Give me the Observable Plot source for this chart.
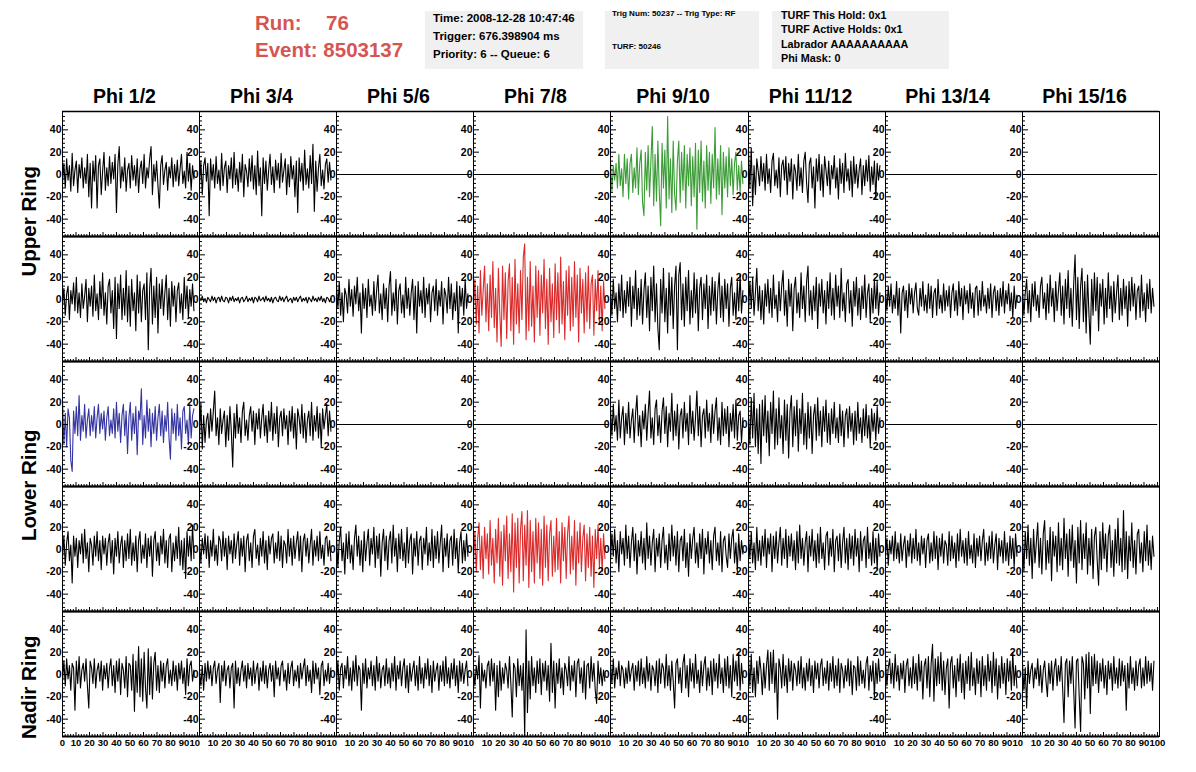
<!DOCTYPE html>
<html>
<head>
<meta charset="utf-8">
<script src="https://cdn.jsdelivr.net/npm/d3@7"></script>
<script src="https://cdn.jsdelivr.net/npm/@observablehq/plot@0.6"></script>
<style>
html,body{margin:0;padding:0;background:#fff;overflow:hidden;}
#root{position:relative;width:1196px;height:772px;overflow:hidden;font-family:"Liberation Sans",Arial,Helvetica,sans-serif;font-weight:bold;color:#000;}
.t{position:absolute;white-space:nowrap;line-height:1;}
.box{position:absolute;background:#f0f0f0;}
</style>
</head>
<body>
<div id="root"></div>
<script>
// ---------- labels ----------
const phiLabels = ["Phi 1/2","Phi 3/4","Phi 5/6","Phi 7/8","Phi 9/10","Phi 11/12","Phi 13/14","Phi 15/16"];
const ringLabels = ["Upper Ring","Lower Ring","Nadir Ring"];
const runLabel = "Run:", runValue = "76", eventLabel = "Event: 8503137";
const box1Lines = ["Time: 2008-12-28 10:47:46","Trigger: 676.398904 ms","Priority: 6 -- Queue: 6"];
const box2Lines = ["Trig Num: 50237 -- Trig Type: RF","TURF: 50246"];
const box3Lines = ["TURF This Hold: 0x1","TURF Active Holds: 0x1","Labrador AAAAAAAAAA","Phi Mask: 0"];
const yMajor = [-40,-20,0,20,40];
const yMinor = [-52,-48,-44,-36,-32,-28,-24,-16,-12,-8,-4,4,8,12,16,24,28,32,36,44,48,52];
const xMajor = [0,10,20,30,40,50,60,70,80,90,100];
const xMinor = [2,4,6,8,12,14,16,18,22,24,26,28,32,34,36,38,42,44,46,48,52,54,56,58,62,64,66,68,72,74,76,78,82,84,86,88,92,94,96,98];
const xLabels = [0,10,20,30,40,50,60,70,80,90,100];

// ---------- waveforms (mV, sampled every dt ns) ----------
const dt = 1.025;
const flatTimes = [0, 99.5];
const flatValues = [0, 0];

const r1c1 = [-8,10,-12,14,-5,8,-15,19,-10,4,12,-16,9,-3,15,-12,6,-8,18,-20,10,-30,12,-6,17,-30,8,14,-18,3,20,-14,6,-10,16,-8,11,-4,18,-34,9,25,-12,7,-6,15,-15,4,10,-12,17,-5,8,-10,14,-16,5,12,-8,18,-12,6,-3,14,25,-18,9,-6,12,-10,-30,8,17,-9,4,11,-14,7,-3,15,-11,9,-6,13,-10,5,18,-8,3,-12,20,-6,10,-14,8,-4];
const r1c2 = [-10,12,-18,8,15,-6,10,-37,14,-5,9,-12,16,-8,4,-14,19,-10,6,12,-16,8,-4,15,-12,20,-9,5,-15,11,-7,18,-20,9,3,-11,14,-6,17,-13,8,-18,21,-10,6,-37,15,-8,12,-14,4,18,-9,7,-16,13,-5,10,-12,19,-7,4,14,-18,9,-11,16,-4,8,-20,12,-34,15,-6,10,-14,22,-9,5,-12,17,-8,27,-33,12,-15,6,18,-10,4,-13,9,14,-7,11,-5];
const r1c5 = [12,-15,8,-5,10,-12,18,-10,5,-20,18,-8,14,-22,10,18,-16,6,-12,24,-18,10,22,-25,-37,20,-14,26,-20,12,43,-28,18,-24,30,-15,-46,28,-12,22,-30,52,-22,14,-34,30,-18,-32,12,30,-25,20,-14,26,-30,18,-10,24,-28,16,-20,28,-49,22,-16,30,-24,12,-30,26,-14,20,-26,18,-12,42,-22,14,-18,26,-36,20,-12,16,-20,24,-10,14,-18,10,20,-14,8,-16,12,-8];
const r1c6 = [20,-12,24,-28,8,-18,14,3,-10,16,-6,10,-14,18,-8,5,-16,12,19,-10,4,-12,15,-20,8,13,-5,16,-18,10,-6,14,-22,9,3,-14,18,-10,6,-16,12,20,-8,-25,10,15,-12,7,-30,14,-6,18,-14,9,-20,16,4,-10,12,-18,8,-4,17,-12,6,-22,14,-8,10,-16,19,-6,5,-14,12,-20,16,-8,9,-12,4,14,-18,8,-10,13,-6,17,-15,7,-9,12,-22,10,-5,8];

const r2c1 = [-6,10,-14,5,12,-18,8,-4,15,-10,20,-12,6,-16,14,-8,3,18,-20,10,-6,12,-15,22,-10,5,-18,16,-8,24,-14,6,-22,12,18,-12,8,-26,20,-35,14,-8,22,-18,10,-14,26,-20,12,-24,18,-10,6,-28,22,-12,16,-20,8,14,-18,24,-45,10,28,-22,12,-16,20,-30,14,-8,18,-14,6,22,-18,10,-24,16,-6,12,-20,8,15,-12,5,-18,20,-8,12,-16,9,-6,14,-10];
const r2c2 = [2,-1,3,-2,1,-3,2,0,-2,3,-1,2,-3,1,2,-2,3,-1,-2,2,1,-3,2,-1,3,-2,1,-1,2,-3,1,2,-2,0,3,-2,1,-1,2,-3,2,1,-2,3,-1,0,2,-2,3,-1,1,-2,2,-3,1,2,-1,-2,3,-1,2,-2,1,3,-2,0,1,-3,2,-1,2,-2,1,3,-2,1,-1,2,-3,2,0,-2,3,-1,1,-2,2,-1,3,-2,1,-3,2,1,-2,1];
const r2c3 = [12,-8,16,-14,6,-20,10,4,-12,18,-6,9,-15,12,-4,20,-10,6,-30,14,-8,10,-16,18,-6,4,-14,16,-10,8,22,-12,5,-18,14,-8,10,-20,12,25,-14,6,-10,18,-22,8,14,-12,4,-16,20,-8,10,-14,6,18,-18,12,-30,16,-6,8,-12,20,-16,10,-4,14,-20,6,12,-10,18,-14,8,-6,16,-22,10,4,-12,20,-8,14,-18,6,-10,16,-30,12,-6,10,-14,18,-8,5];
const r2c4 = [-10,18,-22,12,-30,26,-14,8,30,-20,14,-28,22,-16,34,-25,10,-38,28,-12,-42,30,-18,24,-35,16,32,-28,20,-40,36,-22,14,-30,26,-18,38,50,-36,20,-28,34,-24,12,-38,30,-16,26,-32,22,-12,36,-26,18,-40,28,-20,14,-34,32,-18,24,-30,38,-22,16,-36,26,-14,30,-28,20,-24,34,-16,22,-38,28,-12,18,-30,24,-20,30,-26,14,22,-32,18,-10,26,-22,12,-28,16,-8];
const r2c5 = [10,-14,18,-8,6,-20,14,-10,22,-16,8,-12,16,-6,20,-24,12,-8,26,-18,10,-14,18,-22,8,24,-16,12,-28,20,-10,30,-20,14,-26,-45,18,-12,28,-20,10,-30,24,-14,20,-26,12,30,-45,22,33,-18,14,-24,20,-10,26,-22,8,-16,24,-12,18,-28,10,20,-18,14,-8,22,-26,12,-14,20,-10,16,-22,8,24,-16,12,-20,18,-8,14,-24,10,20,-14,6,-18,16,-10,22,-12,8];
const r2c6 = [-12,16,-8,20,-14,6,28,-10,12,-18,8,-22,14,-6,18,-12,10,-16,22,-8,4,-20,16,-10,12,26,-14,8,-24,18,-6,14,-28,10,20,-12,6,-16,24,-8,12,-20,16,30,-14,8,-18,12,-10,20,-26,14,-6,18,-12,8,-22,16,-8,24,-14,10,-18,22,-6,12,-16,28,-10,6,-20,14,18,-12,8,-24,16,-6,20,-14,10,-18,12,-8,22,-16,6,14,-20,10,-12,18,-8,16,-14,6];
const r2c7 = [8,-10,12,-6,14,-12,4,-8,16,-14,10,-30,6,12,-10,8,-16,14,-4,10,-12,6,15,-8,-14,10,-6,16,-10,4,-12,14,-8,12,-16,6,10,-14,18,-8,4,-12,14,-10,8,-6,12,-16,6,14,-10,8,-14,16,-6,10,-18,12,-4,8,-12,14,-8,6,-16,10,12,-14,8,-10,16,-6,4,-12,10,-8,14,-16,6,12,-10,8,-14,10,-6,16,-12,8,-4,14,-10,6,-16,12,-8,4];
const r2c8 = [10,-14,6,18,-12,8,-20,14,-6,16,-10,4,-16,12,20,-8,6,-18,14,-12,22,-6,10,-20,16,-10,8,24,-14,12,-22,18,-8,26,-16,10,-24,14,40,-18,20,-26,12,28,-20,16,-30,22,-12,-40,18,-14,24,-10,20,-28,14,-6,18,-22,10,-16,24,-8,12,-20,16,-12,6,22,-18,10,-14,18,-8,12,-24,16,-10,20,-6,14,-18,8,12,-16,22,-10,6,-20,14,-8,18,-12,10,-6];

const r3c1 = [22,-18,10,-20,14,6,-32,-42,12,-8,16,-10,26,-14,8,-6,18,-12,4,14,-10,8,-6,16,-12,6,18,-8,10,-4,12,-14,6,16,-10,4,-8,14,-12,20,-6,10,-16,8,18,-10,12,-26,6,20,-14,10,-8,16,-27,12,4,32,-18,8,-12,22,-6,14,-20,10,-8,16,-14,6,18,-10,12,-16,8,-6,20,-12,-31,14,-8,10,-14,18,-10,6,-22,12,16,-8,4,-18,18,-12,8,14];
const r3c2 = [-14,20,-22,8,-16,4,10,-12,14,-6,12,30,-10,6,-18,14,-8,4,12,-20,8,-14,16,-6,-38,10,-12,18,-8,6,-16,12,20,-10,4,-14,8,16,-6,12,-18,10,-4,14,-12,6,18,-10,8,-16,12,-6,20,-14,10,-8,16,-20,6,12,-10,14,-4,8,-18,12,-6,16,-12,10,-22,14,6,-8,18,-12,10,-16,4,12,-10,20,-14,8,-6,16,-12,10,-20,14,-4,8,18,-10,12,-6];
const r3c5 = [14,-10,18,-6,8,-14,22,-12,6,16,-18,10,-8,20,-12,4,14,-16,10,26,-10,8,-20,12,-4,18,-14,10,30,-12,6,-18,14,22,-10,8,-16,12,24,-8,16,-20,10,-6,28,-14,12,-10,18,-22,8,14,-12,20,-6,10,-18,26,-8,12,-14,6,30,-10,16,-20,8,14,-12,22,-6,10,-16,18,-8,12,24,-14,6,-18,20,-10,14,-8,16,-20,10,-6,18,-12,22,-14,8,12,-16,6];
const r3c6 = [10,-18,24,-12,28,-20,14,-26,18,-35,22,-10,26,-16,12,-28,20,-8,30,-22,14,-18,24,-12,8,-26,22,-14,18,-30,12,26,-20,16,-10,22,-24,14,-8,28,-18,10,-22,20,-12,16,-26,8,18,-14,24,-10,12,-20,16,-6,22,-16,10,-18,14,-8,20,-12,6,-16,18,-10,12,-20,8,14,-12,16,-6,10,-18,12,-14,20,-8,6,-16,14,-10,18,-12,8,-20,14,-6,10,-14,16,-8,6];

const r4c1 = [-8,12,-14,6,16,-10,4,-30,12,-6,10,-16,8,-4,14,-12,18,-8,6,-20,10,4,-14,12,-6,16,-10,8,-18,12,-4,10,-14,6,14,-12,8,-22,10,-6,16,-12,4,12,-16,8,-10,14,-8,18,-14,6,-10,12,-20,8,16,-12,4,-8,14,-16,10,-6,12,-24,8,16,-10,6,-14,12,-4,18,-12,8,-16,10,14,-20,6,-10,12,-8,20,-14,8,-18,10,-26,16,-6,12,-10,22,-8];
const r4c2 = [6,-12,10,-4,14,-8,12,-16,8,-6,18,-10,4,-14,12,8,-10,16,-6,10,-18,12,-4,8,-12,14,-8,6,16,-14,10,-6,12,-20,8,14,-10,6,-16,12,18,-8,4,-14,10,-6,16,-12,8,-18,12,-4,10,14,-12,6,-8,16,-10,12,-16,8,4,-12,18,-6,10,-14,12,-8,6,16,-10,12,-20,8,14,-6,10,-12,4,18,-14,8,-6,12,-10,16,-8,4,-14,10,12,-6,8,-10];
const r4c3 = [12,-16,8,20,-10,6,-22,14,-8,16,-12,4,-18,10,22,-6,12,-14,8,-20,16,-10,6,18,-14,10,-4,20,-16,12,-8,14,-24,6,18,-10,12,-18,8,16,-12,22,-6,10,-20,14,-8,18,-10,6,-16,20,-12,8,14,-22,10,-6,16,-14,8,12,-18,10,-4,20,-14,6,-10,18,-16,12,-8,16,-12,6,22,-20,10,-6,14,-16,8,12,-14,18,-8,10,-20,6,16,-12,8,-10,14,-6];
const r4c4 = [-12,16,-20,10,24,-18,12,-26,20,-8,14,-22,26,-14,10,-30,18,-12,28,-24,16,-32,22,-10,30,-26,14,-20,32,-38,24,-16,28,-30,18,34,-28,22,-14,35,-34,26,-20,16,-30,28,-12,24,-26,18,-32,30,-16,22,-28,14,26,-24,12,-20,28,-18,16,-30,24,-10,20,-26,14,30,-22,12,-18,26,-32,16,-12,24,-20,10,22,-28,14,-16,20,-24,12,-34,18,-8,22,-16,10,-20,14,-8];
const r4c5 = [-10,14,-6,18,-12,8,-20,16,-4,10,-14,22,-8,12,-16,6,20,-10,14,-22,8,-6,16,-12,10,-18,24,-8,12,-14,6,18,-20,10,-6,14,-16,8,20,-12,4,-18,14,-10,22,-6,12,-14,16,-20,8,12,-10,18,-16,6,-24,14,-8,10,20,-12,6,-16,14,-8,18,-22,10,-4,16,-12,8,-18,12,20,-10,6,-14,16,-20,8,12,-6,-16,14,-8,10,18,-12,6,-20,14,-10,8,-4];
const r4c6 = [14,-8,16,-12,6,-18,20,-10,8,-14,12,-6,18,-16,10,-4,14,-20,12,-8,16,-12,6,20,-14,10,-8,18,-16,12,-6,14,-10,8,-18,16,-12,22,-8,10,-14,6,16,-20,12,-6,18,-10,8,-16,14,-12,20,-8,6,-18,12,16,-14,10,-6,18,-20,8,12,-10,14,-16,6,20,-12,10,-18,14,-8,12,-14,18,-6,10,-20,16,-10,8,12,-16,20,-8,6,-14,16,-12,10,-18,14,-6];
const r4c7 = [-6,10,-14,8,-4,12,-10,16,-8,6,-12,14,-10,4,12,-16,8,-6,14,-12,10,-8,18,-10,6,-14,12,-4,10,-16,8,14,-12,6,-10,16,-8,12,-18,10,-6,14,-12,8,4,-14,16,-10,12,-8,6,-16,14,-10,18,-6,8,-12,10,-14,16,-8,4,-12,14,-16,10,-6,12,-10,8,18,-14,6,-10,12,-8,16,-12,4,14,-18,10,-6,8,-12,16,-10,6,-14,12,-8,10,-16,14,-6];
const r4c8 = [12,-20,16,-8,22,-14,10,-26,18,-12,6,24,-16,10,-22,14,26,-18,8,-12,20,-28,16,-6,12,-20,24,-14,10,-18,28,-8,14,-24,18,-10,22,-16,8,-30,20,-12,26,-18,14,-8,24,-22,10,-14,18,-26,12,20,-10,-32,16,-18,24,-8,14,-20,12,22,-16,8,-24,18,-12,28,-14,10,-20,35,-18,16,-26,12,-10,24,-16,8,-22,14,18,-12,6,-20,16,-10,22,-14,8,-18,12,-6];

const r5c1 = [-6,12,-10,14,-4,8,-14,10,6,-32,12,-8,16,-12,4,10,-6,14,-10,-30,12,6,-8,14,-12,4,10,-6,12,-14,8,-4,10,-12,6,14,-10,8,-16,12,-6,14,-18,10,4,-12,16,-20,10,8,-14,18,-33,12,-16,25,-20,14,-24,20,-12,-30,23,-18,16,-22,10,20,-14,8,-16,12,-6,10,-12,8,14,-8,4,-10,12,-6,8,-14,10,-4,12,-8,6,-18,14,-10,8,12,-6,4];
const r5c2 = [4,-10,8,-14,10,-6,12,-4,8,-10,6,12,-8,4,10,-25,8,-6,12,-10,4,8,-12,6,10,-30,12,-8,6,-10,4,12,-6,8,-12,10,-4,6,-10,12,-8,4,10,-14,6,-6,12,-8,8,-12,4,10,-6,8,-20,12,-4,6,-10,8,12,-6,4,-14,10,-8,6,12,-10,4,-6,8,-12,10,-4,6,14,-10,8,-6,4,-16,12,-8,10,-4,6,-18,8,12,-10,4,-6,10,-8,6];
const r5c3 = [-8,12,-14,6,10,-12,8,-4,16,-10,6,-14,12,-6,17,-10,8,4,-32,10,-8,14,-12,6,-4,12,-10,8,-14,16,-6,10,-12,4,8,-10,14,-8,6,-12,10,-6,16,-14,8,-4,12,-10,6,14,-12,8,-16,10,-6,4,12,-10,8,-14,16,-8,6,-12,10,-4,14,-10,8,-16,12,-6,4,10,-14,8,-6,12,-10,16,-8,6,-12,10,-4,14,-10,8,-16,12,-6,10,-8,4,12,-10];
const r5c4 = [6,-10,8,-4,17,-30,10,-6,4,-12,8,12,-10,14,-6,10,-32,8,-20,12,-14,6,-8,10,4,-12,16,-8,-38,10,6,-20,14,-10,8,-14,10,-55,40,-34,12,-22,16,-10,6,-16,12,-8,14,-18,10,-6,12,-14,8,-24,28,-16,12,-30,10,-8,14,-12,6,-18,10,4,-10,16,-14,8,-6,12,-20,10,14,-8,6,-16,12,-22,8,10,-12,16,-6,10,-14,-26,12,-8,6,-10,4,-6];
const r5c5 = [10,-8,14,-12,6,-4,12,-10,8,4,-12,6,-8,12,-6,4,10,-14,8,-6,12,-10,14,-8,6,-12,16,-6,10,-14,8,4,-10,12,-16,14,-8,10,6,-12,18,-10,8,-14,12,-6,-30,10,14,-8,6,-16,10,18,-12,8,-20,14,-6,10,-12,18,-8,4,-16,12,-10,8,16,-14,6,-10,12,-18,14,-6,10,-12,18,-8,6,-16,14,-10,16,-12,8,-20,18,-6,12,-10,20,-14,10,-8];
const r5c6 = [14,-10,18,-16,6,-20,12,-8,16,4,-18,10,-12,8,22,-14,20,-8,22,-16,10,-40,14,6,-12,18,-10,8,-16,14,-6,12,-14,10,4,-10,12,-8,16,-12,6,-14,10,-6,14,-10,8,-16,12,-4,10,-12,8,14,-10,6,-8,12,-14,10,-6,16,-12,8,-10,14,-16,10,4,-12,8,-6,14,-10,12,-18,8,6,-14,16,-10,12,-8,4,-12,10,16,-14,8,-6,12,-20,10,-8,14,-6];
const r5c7 = [12,-10,6,14,-8,10,-12,18,-6,8,-14,10,-4,12,-16,8,14,-10,6,-12,16,-8,10,-14,18,-6,12,-22,8,14,-12,16,-20,10,27,-24,14,-10,16,-8,20,-14,12,-18,6,14,-30,10,16,-12,8,-20,14,-6,18,-16,10,-22,12,-8,16,-14,20,-10,6,-18,14,-8,12,-20,16,-10,8,-14,18,-6,12,-16,20,-10,14,-22,8,-12,16,-8,10,-18,14,-6,12,-14,20,-10,8,-12];
const r5c8 = [10,-14,6,-30,12,-8,4,10,-12,6,-4,14,-10,8,-16,4,12,-6,-20,10,-8,12,-14,6,14,-10,8,-6,16,-12,-43,10,14,-20,12,-8,16,-14,-48,12,14,-20,-51,16,10,-22,18,-12,20,-35,16,-10,18,-8,12,-16,10,-6,14,-12,8,-18,12,-4,10,-14,16,-8,6,-12,14,-10,12,-6,8,-32,10,-12,16,-8,6,-14,12,-10,8,14,-12,6,-10,16,-8,12,-6,10,-14,12];

// null = channel with flat (zero) readout
const rows = [
  [r1c1, r1c2, null, null, r1c5, r1c6, null, null],
  [r2c1, r2c2, r2c3, r2c4, r2c5, r2c6, r2c7, r2c8],
  [r3c1, r3c2, null, null, r3c5, r3c6, null, null],
  [r4c1, r4c2, r4c3, r4c4, r4c5, r4c6, r4c7, r4c8],
  [r5c1, r5c2, r5c3, r5c4, r5c5, r5c6, r5c7, r5c8]
];

// ---------- styling / layout (not data) ----------
const traceColor = {"0,4": "#3a9d35", "1,3": "#dc2a2a", "2,0": "#3434a2", "3,3": "#dc2a2a"};
const gridLeft = 61.5, colW = 137.2, gridTop = 111, rowH = 125;
const ml = 26, mr = 2, mt = 2, mb = 16;
const xDomain = [0, 101.5], yDomain = [-55.552, 56.448];
const FONT = "'Liberation Sans', Arial, Helvetica, sans-serif";
const root = document.getElementById("root");

function addText(str, x, baseline, fs, extra) {
  const d = document.createElement("div");
  d.className = "t";
  d.textContent = str;
  d.style.left = x + "px";
  d.style.top = (baseline - 0.8465 * fs) + "px";
  d.style.fontSize = fs + "px";
  if (extra) Object.assign(d.style, extra);
  root.appendChild(d);
  return d;
}
function addBox(x, y, w, h) {
  const d = document.createElement("div");
  d.className = "box";
  Object.assign(d.style, {left: x + "px", top: y + "px", width: w + "px", height: h + "px"});
  root.appendChild(d);
}

// header
const red = "#d65550";
addText(runLabel, 255, 30, 20.5, {color: red});
addText(runValue, 326, 30, 20.5, {color: red});
addText(eventLabel, 255, 57.3, 20.5, {color: red});
addBox(425, 11, 158, 58);
addBox(605, 11, 154, 58);
addBox(772, 11, 177, 58);
[23, 40.5, 59].forEach((b, i) => addText(box1Lines[i], 433, b, 11.5));
[17, 49.5].forEach((b, i) => addText(box2Lines[i], 612, b, 8.1));
[19, 33.5, 48, 62.5].forEach((b, i) => addText(box3Lines[i], 781, b, 10.8));

// column titles
phiLabels.forEach((lab, c) => {
  const x0 = Math.round(gridLeft + c * colW), x1 = Math.round(gridLeft + (c + 1) * colW);
  const cx = (x0 + x1) / 2 - 6;
  addText(lab, cx - 100, 104, 19.5, {width: "200px", textAlign: "center"});
});

// ring labels (rotated)
const ringCenters = [221, 485, 687];
ringLabels.forEach((lab, i) => {
  const fs = 20.5, w = 200;
  const cx = 29, cy = ringCenters[i];
  const d = addText(lab, cx - w / 2, 0, fs, {width: w + "px", textAlign: "center", height: fs + "px", transform: "rotate(-90deg)", transformOrigin: "50% 50%"});
  d.style.top = (cy - fs / 2) + "px";
});

// panels
for (let r = 0; r < 5; r++) {
  for (let c = 0; c < 8; c++) {
    const x0 = Math.round(gridLeft + c * colW), x1 = Math.round(gridLeft + (c + 1) * colW);
    const y0 = gridTop + r * rowH;
    const iw = x1 - x0, ih = rowH;
    const vals = rows[r][c];
    const data = vals ? vals.map((v, i) => ({t: i * dt, v})) : flatTimes.map((t, i) => ({t, v: flatValues[i]}));
    const color = traceColor[r + "," + c] || "#000";
    const marks = [
      Plot.line(data, {x: "t", y: "v", stroke: color, strokeWidth: 1.1}),
      Plot.frame({stroke: "#000", strokeWidth: 1}),
      Plot.ruleY([yDomain[0]], {stroke: "#000", strokeWidth: 2}),
      Plot.ruleY([yDomain[1]], {stroke: "#000", strokeWidth: 1.5}),
      Plot.tickY(yMajor, {y: d => d, stroke: "#000", insetRight: iw - 6}),
      Plot.tickY(yMinor, {y: d => d, stroke: "#000", insetRight: iw - 3}),
      Plot.tickX(xMajor, {x: d => d, stroke: "#000", insetTop: ih - 4}),
      Plot.tickX(xMinor, {x: d => d, stroke: "#000", insetTop: ih - 2}),
      Plot.text(yMajor, {y: d => d, text: d => String(d), frameAnchor: "left", textAnchor: "end", dx: -1, fontSize: 10.5, fontWeight: "bold", fill: "#000"})
    ];
    if (r === 4) {
      const labs = xLabels.filter(d => d !== 100 && (d !== 0 || c === 0));
      marks.push(Plot.text(labs, {x: d => d, text: d => String(d), frameAnchor: "bottom", lineAnchor: "top", dy: 2.5, fontSize: 9.5, fontWeight: "bold", fill: "#000"}));
      if (c === 7) {
        marks.push(Plot.text([100], {x: d => d, text: d => String(d), frameAnchor: "bottom", lineAnchor: "top", dy: 2.5, fontSize: 9.5, fontWeight: "bold", fill: "#000"}));
      } else {
        // "100" label is cut off by the neighbouring pad
        marks.push(Plot.text([100], {x: d => d, text: d => String(d).slice(0, 2), frameAnchor: "bottom", lineAnchor: "top", textAnchor: "end", dx: 2.5, dy: 2.5, fontSize: 9.5, fontWeight: "bold", fill: "#000"}));
      }
    }
    const svg = Plot.plot({
      width: iw + ml + mr,
      height: ih + mt + mb,
      marginLeft: ml, marginRight: mr, marginTop: mt, marginBottom: mb,
      x: {domain: xDomain, axis: null},
      y: {domain: yDomain, axis: null},
      style: `background:transparent;overflow:visible;font-family:${FONT};font-size:10px;color:#000;`,
      marks
    });
    svg.style.position = "absolute";
    svg.style.left = (x0 - ml) + "px";
    svg.style.top = (y0 - mt) + "px";
    root.appendChild(svg);
  }
}
</script>
</body>
</html>
